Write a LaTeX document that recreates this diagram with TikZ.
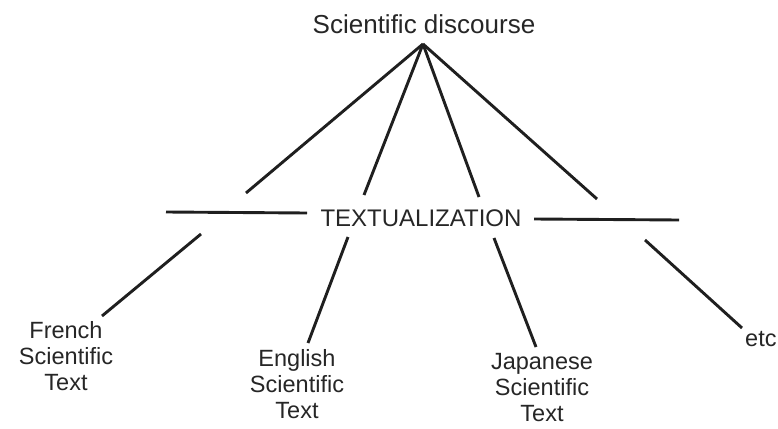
\documentclass[tikz,border=0pt]{standalone}
\usepackage{fontspec}
\setmainfont{Liberation Sans}
\begin{document}
\begin{tikzpicture}[x=1pt,y=-1pt,
  lbl/.style={inner sep=0pt,align=center,text=black!85,font=\fontsize{23.5}{26}\selectfont},
  ln/.style={line width=2.9pt,draw=black!88}]
\useasboundingbox (0,0) rectangle (778,428);
\node[lbl,font=\fontsize{26}{30}\selectfont] (sd) at (424,24) {Scientific discourse};
\node[lbl,font=\fontsize{24}{28}\selectfont] (tx) at (421,218) {TEXTUALIZATION};
\node[lbl] (fr) at (66,356) {French\\Scientific\\Text};
\node[lbl] (en) at (297,384) {English\\Scientific\\Text};
\node[lbl] (ja) at (542,388) {Japanese\\Scientific\\Text};
\node[lbl,anchor=west] (etc) at (745,339) {etc};
\coordinate (apex) at (423,44);
\coordinate (a1) at (246,193);
\coordinate (a2) at (364,195);
\coordinate (a3) at (479,197);
\coordinate (a4) at (597,199);
\coordinate (hl1) at (166,212);
\coordinate (hl2) at (307,213);
\coordinate (hr1) at (534,219);
\coordinate (hr2) at (679,220);
\coordinate (b1) at (201,234);
\coordinate (c1) at (102,316);
\coordinate (b2) at (348,237);
\coordinate (c2) at (308,343);
\coordinate (b3) at (494,238);
\coordinate (c3) at (536,347);
\coordinate (b4) at (645,240);
\coordinate (c4) at (742,328);
\foreach \e in {a1,a2,a3,a4} \draw[ln] (apex) -- (\e);
\draw[ln] (hl1) -- (hl2);
\draw[ln] (hr1) -- (hr2);
\draw[ln] (b1) -- (c1);
\draw[ln] (b2) -- (c2);
\draw[ln] (b3) -- (c3);
\draw[ln] (b4) -- (c4);
\end{tikzpicture}
\end{document}
